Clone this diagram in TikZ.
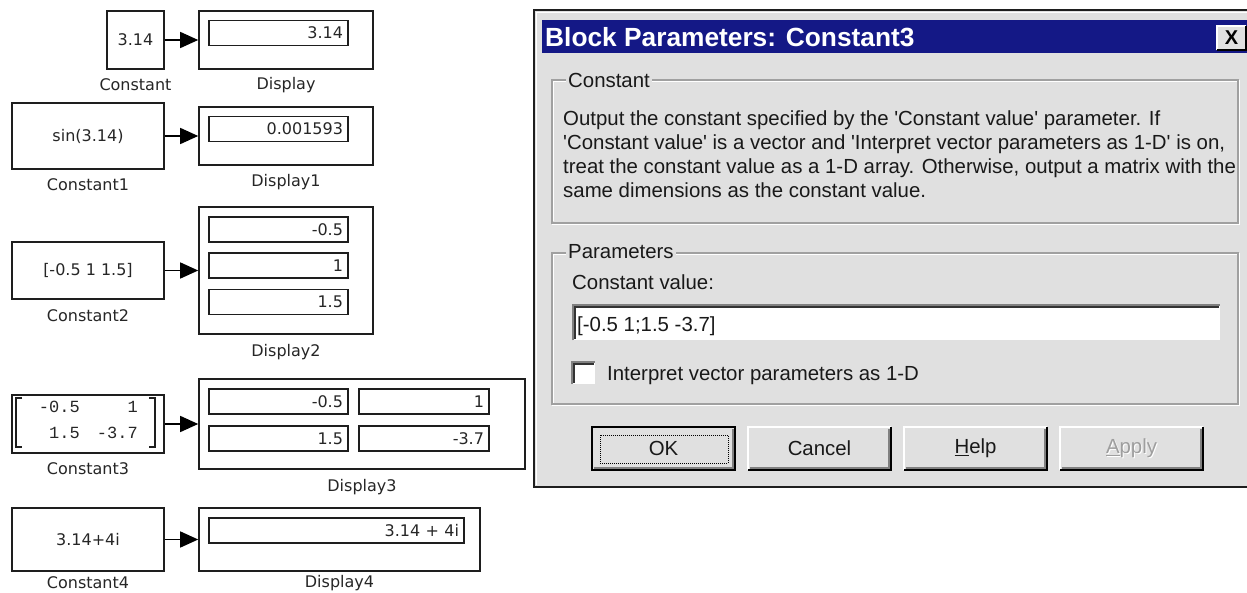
\documentclass[tikz,border=0pt]{standalone}
\usepackage{fontspec}
\setmainfont{Liberation Sans}
\newfontfamily\slfont{DejaVu Sans}
\newfontfamily\slmono{Liberation Mono}
\usetikzlibrary{arrows.meta}
\definecolor{dlgbg}{RGB}{224,224,224}
\definecolor{titlebg}{RGB}{20,24,134}
\definecolor{edge}{RGB}{30,30,30}
\definecolor{etch}{RGB}{160,160,160}
\definecolor{darkgray}{RGB}{128,128,128}
\newcommand\mybevel[1]{%
  \draw[white,line width=2pt] (#1.south west) -- (#1.north west) -- (#1.north east);
  \draw[black,line width=2pt] (#1.south west) -- (#1.south east) -- (#1.north east);
  \draw[darkgray,line width=1.5pt] ([xshift=2pt,yshift=2pt]#1.south west) -- ([xshift=-2pt,yshift=2pt]#1.south east) -- ([xshift=-2pt,yshift=-2pt]#1.north east);}
\newcommand\mysunken[1]{%
  \draw[darkgray,line width=2pt] (#1.south west) -- (#1.north west) -- (#1.north east);
  \draw[black!80,line width=1.5pt] ([xshift=2pt,yshift=1pt]#1.south west) -- ([xshift=2pt,yshift=-2pt]#1.north west) -- ([xshift=-1pt,yshift=-2pt]#1.north east);}
\begin{document}
\begin{tikzpicture}[x=1pt,y=-1pt,
  blk/.style={draw=edge,line width=1.6pt,fill=white,inner sep=0pt,font=\slfont\fontsize{16}{19}\selectfont,text=black!85},
  ibox/.style={draw=edge,line width=1.4pt,inner xsep=5pt,inner ysep=0pt,minimum height=25pt,align=right,font=\slfont\fontsize{16}{19}\selectfont,text=black!85},
  lbl/.style={font=\slfont\fontsize{16}{19}\selectfont,inner sep=0pt,text=black!85},
  sig/.style={-{Triangle[length=18pt,width=16pt]},line width=1.5pt,draw=black},
  mono/.style={font=\slmono\fontsize{17}{19}\selectfont,inner sep=0pt,anchor=base east,text=black!85},
  dtxt/.style={font=\fontsize{20.4}{24}\selectfont,inner sep=0pt,anchor=base west,text=black!90},
  grp/.style={font=\fontsize{20.4}{24}\selectfont,inner xsep=2pt,inner ysep=0pt,anchor=west,fill=dlgbg,text=black!90},
  btn/.style={fill=dlgbg,minimum width=143pt,minimum height=43pt,inner sep=0pt,font=\fontsize{20.4}{24}\selectfont,text=black!90}
]
\useasboundingbox (0,0) rectangle (1247,593);
\fill[white] (0,0) rectangle (1247,593);

% ---------- Simulink blocks ----------
\node[blk,minimum width=57pt,minimum height=58pt] (c0) at (135.5,40) {3.14};
\node[blk,minimum width=174pt,minimum height=58pt] (d0) at (286,40) {};
\node[ibox,minimum width=139pt,text width=129pt] (i0) at (278.5,33) {3.14};
\node[lbl] (lc0) at (135.5,85) {Constant};
\node[lbl] (ld0) at (286,85) {Display};

\node[blk,minimum width=152pt,minimum height=66pt] (c1) at (88,136) {sin(3.14)};
\node[blk,minimum width=174pt,minimum height=58pt] (d1) at (286,136) {};
\node[ibox,minimum width=139pt,text width=129pt] (i1) at (278.5,129) {0.001593};
\node[lbl] (lc1) at (88,185) {Constant1};
\node[lbl] (ld1) at (286,182) {Display1};

\node[blk,minimum width=152pt,minimum height=57pt] (c2) at (88,270.5) {[-0.5 1 1.5]};
\node[blk,minimum width=174pt,minimum height=127pt] (d2) at (286,270.5) {};
\node[ibox,minimum width=139pt,text width=129pt] (i2a) at (278.5,229.5) {-0.5};
\node[ibox,minimum width=139pt,text width=129pt] (i2b) at (278.5,265.5) {1};
\node[ibox,minimum width=139pt,text width=129pt] (i2c) at (278.5,302) {1.5};
\node[lbl] (lc2) at (88,316) {Constant2};
\node[lbl] (ld2) at (286,352) {Display2};

\node[blk,minimum width=152pt,minimum height=58pt] (c3) at (88,424) {};
\draw[edge,line width=2pt] (22,398) -- (16,398) -- (16,447) -- (22,447);
\draw[edge,line width=2pt] (149,398) -- (155,398) -- (155,447) -- (149,447);
\node[mono] (m11) at (80,412) {-0.5};
\node[mono] (m12) at (138,412) {1};
\node[mono] (m21) at (80,438) {1.5};
\node[mono] (m22) at (138,438) {-3.7};
\node[blk,minimum width=326pt,minimum height=90pt] (d3) at (362,424) {};
\node[ibox,minimum width=139pt,text width=129pt] (i3a) at (278.5,401.5) {-0.5};
\node[ibox,minimum width=130pt,text width=120pt] (i3b) at (424,401.5) {1};
\node[ibox,minimum width=139pt,text width=129pt] (i3c) at (278.5,438.5) {1.5};
\node[ibox,minimum width=130pt,text width=120pt] (i3d) at (424,438.5) {-3.7};
\node[lbl] (lc3) at (88,469) {Constant3};
\node[lbl] (ld3) at (362,487) {Display3};

\node[blk,minimum width=152pt,minimum height=63pt] (c4) at (88,539.5) {3.14+4i};
\node[blk,minimum width=281pt,minimum height=63pt] (d4) at (339.5,539.5) {};
\node[ibox,minimum width=255pt,text width=245pt] (i4) at (336.5,530.5) {3.14 + 4i};
\node[lbl] (lc4) at (88,583) {Constant4};
\node[lbl] (ld4) at (339.5,583) {Display4};

\draw[sig] (c0) -- (d0);
\draw[sig] (c1) -- (d1);
\draw[sig] (c2) -- (d2);
\draw[sig] (c3) -- (d3);
\draw[sig] (c4) -- (d4);

% ---------- Dialog ----------
\fill[dlgbg] (534,10) rectangle (1247,487);
\draw[edge,line width=1.6pt] (1247,10) -- (534,10) -- (534,487) -- (1247,487);
\draw[white,line width=1.2pt] (1247,12.5) -- (536.5,12.5) -- (536.5,485);
\fill[titlebg] (542,20) rectangle (1247,53);
\node[anchor=west,inner sep=0pt,text=white,font=\bfseries\fontsize{26.3}{30}\selectfont] (title) at (545,37) {Block Parameters: Constant3};
\node[fill=dlgbg,minimum width=29pt,minimum height=24pt,inner sep=0pt,font=\bfseries\fontsize{20}{24}\selectfont] (close) at (1231.5,38) {X};
\draw[white,line width=1.5pt] (close.south west) -- (close.north west) -- (close.north east);
\draw[black,line width=1.5pt] (close.south west) -- (close.south east) -- (close.north east);

% group box Constant
\draw[etch,line width=1.2pt] (552,80) rectangle (1238,223);
\draw[white,line width=1pt] (553.5,81.5) -- (1236.5,81.5);
\draw[white,line width=1pt] (553.5,81.5) -- (553.5,221.5);
\draw[white,line width=1pt] (552,224.5) -- (1239.5,224.5) -- (1239.5,80);
\node[grp] (gconst) at (566,80) {Constant};
\node[dtxt] (desc1) at (563,126) {Output the constant specified by the \textquotesingle Constant value\textquotesingle\ parameter. If};
\node[dtxt] (desc2) at (563,150) {\textquotesingle Constant value\textquotesingle\ is a vector and \textquotesingle Interpret vector parameters as 1-D\textquotesingle\ is on,};
\node[dtxt] (desc3) at (563,174) {treat the constant value as a 1-D array. Otherwise, output a matrix with the};
\node[dtxt] (desc4) at (563,198) {same dimensions as the constant value.};

% group box Parameters
\draw[etch,line width=1.2pt] (552,253) rectangle (1238,404);
\draw[white,line width=1pt] (553.5,254.5) -- (1236.5,254.5);
\draw[white,line width=1pt] (553.5,254.5) -- (553.5,402.5);
\draw[white,line width=1pt] (552,405.5) -- (1239.5,405.5) -- (1239.5,253);
\node[grp] (gpar) at (566,252) {Parameters};
\node[dtxt] (cvl) at (572,290) {Constant value:};
\node[fill=white,minimum width=647pt,minimum height=35pt,inner sep=0pt,anchor=north west] (field) at (573,305) {};
\mysunken{field}
\node[dtxt] (fval) at (577,332) {[-0.5 1;1.5 -3.7]};
\node[fill=white,minimum width=23pt,minimum height=22pt,inner sep=0pt] (chk) at (583.5,373) {};
\mysunken{chk}
\node[dtxt] (chkl) at (607,380) {Interpret vector parameters as 1-D};

% buttons
\node[btn] (ok) at (663.5,448.5) {OK};
\mybevel{ok}
\draw[black,line width=1.6pt] (ok.south west) rectangle (ok.north east);
\draw[black,line width=1pt,densely dotted] (600,435) rectangle (728,463);
\node[btn] (cancel) at (819.5,448.5) {Cancel};
\mybevel{cancel}
\node[btn] (help) at (975.5,448.5) {\underline{H}elp};
\mybevel{help}
\node[btn] (apply) at (1131.5,448.5) {};
\mybevel{apply}
\node[font=\fontsize{20.4}{24}\selectfont,text=white,inner sep=0pt] (applysh) at (1132.5,449.5) {\underline{A}pply};
\node[font=\fontsize{20.4}{24}\selectfont,text=black!38,inner sep=0pt] (applyt) at (1131.5,448.5) {\underline{A}pply};
\end{tikzpicture}
\end{document}
